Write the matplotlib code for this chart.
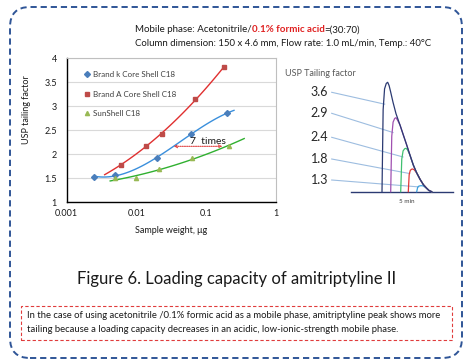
import numpy as np
import matplotlib
matplotlib.use("Agg")
import matplotlib.pyplot as plt
from matplotlib.patches import FancyBboxPatch, Rectangle

plt.rcParams['font.family'] = ['Lato', 'DejaVu Sans']

# loading study: sample weight (ug) vs USP tailing factor
brand_k_x = [0.0025, 0.005, 0.02, 0.06, 0.2]
brand_k_y = [1.53, 1.56, 1.92, 2.42, 2.85]
brand_a_x = [0.006, 0.0135, 0.0235, 0.07, 0.18]
brand_a_y = [1.78, 2.16, 2.42, 3.15, 3.81]
sunshell_x = [0.005, 0.01, 0.021, 0.063, 0.21]
sunshell_y = [1.49, 1.49, 1.69, 1.91, 2.17]
series_names = ['Brand k Core Shell C18', 'Brand A Core Shell C18', 'SunShell C18']

# chromatogram overlay (time in min, signal), common tailing edge
tail_t = [4.035, 4.1, 4.18, 4.3, 4.45, 4.65, 4.82, 4.985, 5.15, 5.315, 5.48,
          5.65, 5.82, 5.985, 6.1, 6.235]
tail_h = [109.4, 106.5, 100.0, 89.5, 78.0, 66.7, 56.5, 46.7, 36.5, 26.7, 19.0,
          12.5, 7.0, 3.4, 1.2, 0.0]
peak_labels = ['3.6', '2.9', '2.4', '1.8', '1.3']
peak_start = [3.75, 4.185, 4.685, 5.065, 5.485]
peak_apex_t = [4.035, 4.45, 4.95, 5.285, 5.735]
peak_apex_h = [109.4, 74.0, 43.4, 22.7, 6.0]
peak_colors = ['#2b3a72', '#a050b0', '#40c070', '#e03838', '#3ea0dc']
label_h = [99.4, 78.4, 54.4, 32.7, 11.7]

fig = plt.figure(figsize=(4.65, 3.61), dpi=100)
W, H = 465.0, 361.0

# outer dashed frame
frame = FancyBboxPatch((0.10, 0.03), 4.52, 3.51,
                       boxstyle="round,pad=0,rounding_size=0.2",
                       transform=fig.dpi_scale_trans, fill=False,
                       ec='#2f5597', lw=1.4, ls=(0, (3.2, 2)))
fig.patches.append(frame)

# header text (with red bold part)
fig.canvas.draw()
r = fig.canvas.get_renderer()
t1 = fig.text(135 / W, 1 - 30 / H, 'Mobile phase: Acetonitrile/', fontsize=7,
              va='center', color='#1a1a1a')
x = t1.get_window_extent(r).x1 / W
t2 = fig.text(x, 1 - 30 / H, '0.1% formic acid', fontsize=7, va='center',
              color='#e02020', fontweight='bold')
x = t2.get_window_extent(r).x1 / W
fig.text(x, 1 - 30 / H, '=(30:70)', fontsize=7, va='center', color='#1a1a1a')
fig.text(135 / W, 1 - 43 / H,
         'Column dimension: 150 x 4.6 mm, Flow rate: 1.0 mL/min, Temp.: 40\u00b0C',
         fontsize=6.9, va='center', color='#1a1a1a')

# ---------------- main chart ----------------
ax = fig.add_axes([66.7 / W, 1 - 202 / H, 209.3 / W, 144 / H])
ax.set_xscale('log')
ax.set_xlim(0.001, 1)
ax.set_ylim(1, 4)
ax.set_yticks([1, 1.5, 2, 2.5, 3, 3.5, 4])
ax.set_yticklabels(['1', '1.5', '2', '2.5', '3', '3.5', '4'])
ax.set_xticks([0.001, 0.01, 0.1, 1])
ax.set_xticklabels(['0.001', '0.01', '0.1', '1'])
ax.minorticks_off()
ax.grid(axis='y', color='#d9d9d9', lw=0.8)
ax.set_axisbelow(True)
ax.tick_params(length=0, labelsize=6.5, colors='#1a1a1a')
ax.tick_params(axis='y', pad=7)
ax.tick_params(axis='x', pad=5)
for s in ['left', 'bottom']:
    ax.spines[s].set_color('black')
    ax.spines[s].set_linewidth(1.0)
for s in ['top', 'right']:
    ax.spines[s].set_color('#bfbfbf')
    ax.spines[s].set_linewidth(0.8)

series = [
    (brand_k_x, brand_k_y, 'D', '#4a7ebb', '#3a8fdc', 3, (0.0025, 0.25)),
    (brand_a_x, brand_a_y, 's', '#be4b48', '#e03030', 2, (0.0035, 0.18)),
    (sunshell_x, sunshell_y, '^', '#98b954', '#30b030', 2, (0.0042, 0.35)),
]
for (xs, ys, mk, mc, lc, deg, rng), name in zip(series, series_names):
    # trendline fitted in log space
    coef = np.polyfit(np.log10(xs), ys, deg)
    xx = np.logspace(np.log10(rng[0]), np.log10(rng[1]), 100)
    ax.plot(xx, np.polyval(coef, np.log10(xx)), color=lc, lw=1.0)
    ax.plot(xs, ys, ls='none', marker=mk, ms=3.0, color=mc, label=name)

leg = ax.legend(loc='upper left', bbox_to_anchor=(0.07, 0.93), frameon=False,
                fontsize=5.8, labelspacing=1.55, handlelength=0.6,
                handletextpad=0.45, borderaxespad=0)
for t in leg.get_texts():
    t.set_color('#404040')

ax.annotate('', xy=(0.034, 2.16), xytext=(0.17, 2.16),
            arrowprops=dict(arrowstyle='<->', color='#e04040', lw=0.8,
                            ls=(0, (1, 1)), mutation_scale=5,
                            shrinkA=0, shrinkB=0))
ax.text(0.105, 2.27, '7  times', fontsize=7.5, ha='center', va='center',
        color='#1a1a1a')

ax.set_xlabel('Sample weight, \u03bcg', fontsize=6.5, color='#1a1a1a', labelpad=6)
ax.set_ylabel('USP tailing factor', fontsize=6.5, color='#1a1a1a')
ax.yaxis.set_label_coords(-0.17, 0.64)

# ---------------- chromatogram overlay ----------------
cx = fig.add_axes([280 / W, 1 - 200 / H, 180 / W, 130 / H])
cx.set_xlim(-1.35, 7.65)
cx.set_ylim(-8.3, 121.7)
cx.axis('off')
cx.plot([2.2, 7.3], [0, 0], color='#2b3a72', lw=1.0, zorder=1)

for i in range(len(peak_labels)):
    t0, ta, ha = peak_start[i], peak_apex_t[i], peak_apex_h[i]
    d = ta - t0
    xs = [t0, t0 + 0.2 * d, t0 + 0.45 * d, t0 + 0.75 * d, ta, ta + 0.07]
    ys = [0, 0.75 * ha, 0.94 * ha, 0.99 * ha, ha, 0.97 * ha]
    for tt, hh in zip(tail_t, tail_h):
        if tt > ta + 0.12 and hh < 0.95 * ha:
            xs.append(tt)
            ys.append(hh)
    cx.plot(xs, ys, color=peak_colors[i], lw=0.9, zorder=5 - i)
    cx.plot([1.235, ta - 0.15], [label_h[i], 0.8 * ha], color='#9dbde0', lw=0.8,
            zorder=0)
    cx.text(1.05, label_h[i], peak_labels[i], fontsize=9, ha='right',
            va='center', color='#262626')

cx.text(5.0, -10, '5 min', fontsize=4.5, ha='center', va='center',
        color='#404040')
fig.text(285 / W, 1 - 73 / H, 'USP Tailing factor', fontsize=6.5,
         va='center', color='#595959')

# ---------------- caption ----------------
fig.text(236.7 / W, 1 - 279.3 / H, 'Figure 6. Loading capacity of amitriptyline II',
         fontsize=12, ha='center', va='center', color='#1a1a1a')

box = Rectangle((0.21, 0.21), 4.307, 0.34, transform=fig.dpi_scale_trans,
                fill=False, ec='#e03c3c', lw=0.8, ls=(0, (3, 2)))
fig.patches.append(box)
fig.text(26.7 / W, 1 - 316 / H,
         'In the case of using acetonitrile /0.1% formic acid as a mobile phase, '
         'amitriptyline peak shows more', fontsize=6.85, va='center', color='#1a1a1a')
fig.text(26.7 / W, 1 - 330 / H,
         'tailing because a loading capacity decreases in an acidic, '
         'low-ionic-strength mobile phase.', fontsize=6.85, va='center',
         color='#1a1a1a')

fig.savefig('out.png', dpi=100)
